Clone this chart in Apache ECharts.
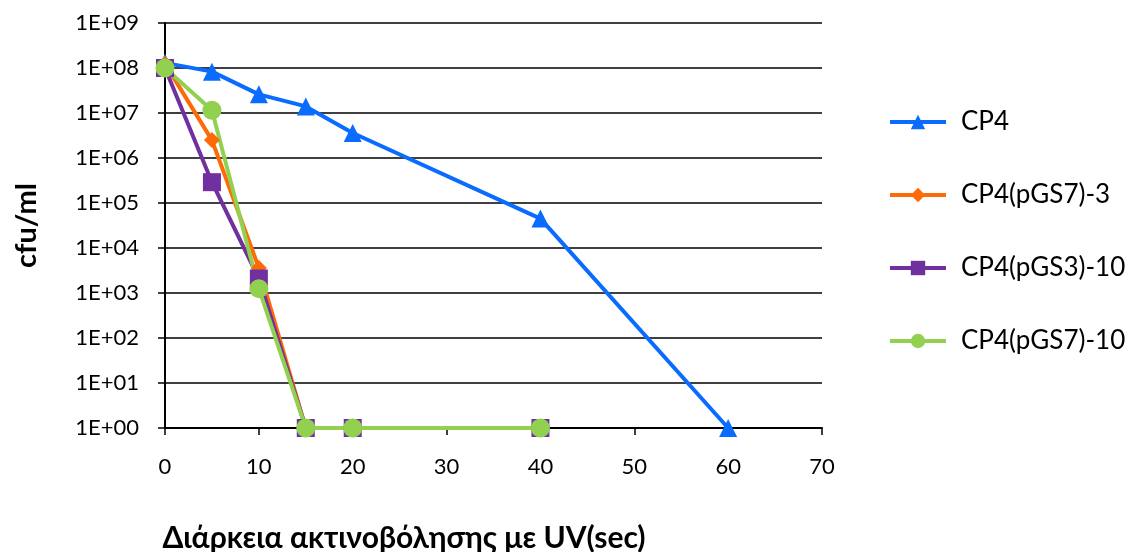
<!DOCTYPE html>
<html>
<head>
<meta charset="utf-8">
<script src="https://cdn.jsdelivr.net/npm/echarts@6/dist/echarts.min.js"></script>
<style>
  html, body { margin: 0; padding: 0; background: #ffffff; }
  #chart { width: 1129px; height: 552px; }
</style>
</head>
<body>
<div id="chart"></div>
<script>
// UV exposure time (sec)
const times = [0, 5, 10, 15, 20, 40, 60];

// Surviving cells (cfu/ml) per strain
const cp4 = [1.3e8, 8.3e7, 2.6e7, 1.4e7, 3.6e6, 4.5e4, 1];
const cp4_pGS7_3 = [1.25e8, 2.5e6, 3.6e3, 1, 1, 1, null];
const cp4_pGS3_10 = [1.0e8, 2.9e5, 2.1e3, 1, 1, 1, null];
const cp4_pGS7_10 = [1.0e8, 1.15e7, 1.25e3, 1, 1, 1, null];

const seriesNames = ['CP4', 'CP4(pGS7)-3', 'CP4(pGS3)-10', 'CP4(pGS7)-10'];
const xTicks = { min: 0, max: 70, step: 10 };
const yTicks = { min: 1, max: 1e9 };

const font = 'Lato, "Open Sans", "Noto Sans", sans-serif';

function pairs(vals) {
  const out = [];
  vals.forEach((v, i) => { if (v !== null) out.push([times[i], v]); });
  return out;
}

function lineSeries(name, vals, color, symbol, size) {
  return {
    name: name,
    type: 'line',
    data: pairs(vals),
    symbol: symbol,
    symbolSize: size,
    showAllSymbol: true,
    lineStyle: { color: color, width: 4 },
    itemStyle: { color: color, borderWidth: 0 },
    emphasis: { disabled: true },
    animation: false
  };
}

const chart = echarts.init(document.getElementById('chart'), null, { renderer: 'canvas' });

chart.setOption({
  backgroundColor: '#ffffff',
  animation: false,
  grid: { left: 165, right: 307, top: 23, bottom: 124, containLabel: false, outerBoundsMode: 'none' },
  legend: {
    orient: 'vertical',
    left: 883,
    top: 104,
    itemWidth: 56,
    itemHeight: 18,
    itemGap: 47,
    data: seriesNames,
    lineStyle: { width: 4 },
    textStyle: { fontFamily: font, fontSize: 26, color: '#000', padding: [0, 0, 0, 10] }
  },
  xAxis: {
    type: 'value',
    min: xTicks.min,
    max: xTicks.max,
    interval: xTicks.step,
    name: 'Διάρκεια ακτινοβόλησης με UV(sec)',
    nameLocation: 'middle',
    nameGap: 95,
    nameTextStyle: { fontFamily: font, fontSize: 30, fontWeight: 'bold', color: '#000', padding: [0, 179, 0, 0] },
    axisLine: { onZero: false, lineStyle: { color: '#000', width: 2 } },
    axisTick: { show: true, length: 7, lineStyle: { color: '#000', width: 1.5 } },
    axisLabel: { fontFamily: font, fontSize: 22, color: '#000', margin: 28 },
    splitLine: { show: false }
  },
  yAxis: {
    type: 'log',
    logBase: 10,
    min: yTicks.min,
    max: yTicks.max,
    name: 'cfu/ml',
    nameLocation: 'middle',
    nameGap: 124,
    nameRotate: 90,
    nameTextStyle: { fontFamily: font, fontSize: 29, fontWeight: 'bold', color: '#000' },
    axisLine: { show: true, lineStyle: { color: '#000', width: 2 } },
    axisTick: { show: true, length: 7, lineStyle: { color: '#000', width: 1.5 } },
    axisLabel: {
      fontFamily: font, fontSize: 22, color: '#000', margin: 26,
      formatter: function (v) {
        const e = Math.round(Math.log10(v));
        return '1E+' + (e < 10 ? '0' + e : e);
      }
    },
    splitLine: { show: true, lineStyle: { color: '#000', width: 1.5 } },
    minorTick: { show: false }
  },
  series: [
    lineSeries(seriesNames[0], cp4, '#0a6cff', 'triangle', 18),
    lineSeries(seriesNames[1], cp4_pGS7_3, '#ff6a08', 'diamond', 16),
    lineSeries(seriesNames[2], cp4_pGS3_10, '#7030a0', 'rect', 18),
    lineSeries(seriesNames[3], cp4_pGS7_10, '#92d050', 'circle', 19)
  ]
});
</script>
</body>
</html>
